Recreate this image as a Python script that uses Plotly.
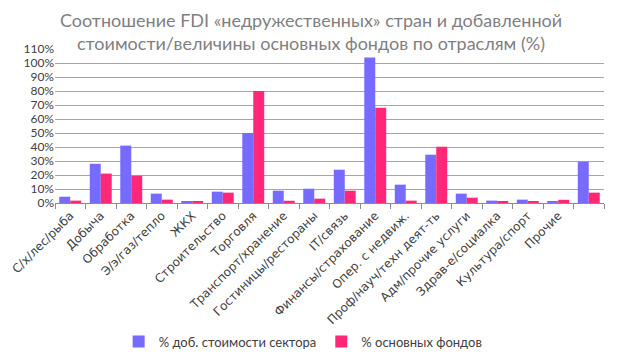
import plotly.graph_objects as go

categories = [
    "С/х/лес/рыба", "Добыча", "Обработка", "Э/э/газ/тепло", "ЖКХ",
    "Строительство", "Торговля", "Транспорт/хранение", "Гостиницы/рестораны",
    "IT/связь", "Финансы/страхование", "Опер. с недвиж.",
    "Проф/науч/техн деят-ть", "Адм/прочие услуги", "Здрав-е/социалка",
    "Культура/спорт", "Прочие", " ",
]
value_added = [4.5, 28, 41, 6.7, 1.0, 8.1, 50, 8.8, 10.2, 23.8, 104, 13.1,
               34.5, 6.7, 1.7, 2.4, 0.9, 29.5]
fixed_assets = [1.7, 21, 19.5, 2.4, 1.0, 7.4, 80, 1.6, 3.1, 8.8, 68, 1.7,
                40.2, 3.8, 1.0, 0.9, 2.3, 7.4]
series_names = ["% доб. стоимости сектора", "% основных фондов"]
y_ticks = list(range(0, 111, 10))
y_tick_labels = [f"{v}%" for v in y_ticks]

BLUE = "#776BFF"
PINK = "#FF2878"
FONT = "Lato"
XFONT = "DejaVu Sans"

fig = go.Figure()
fig.add_bar(x=categories, y=value_added, name=series_names[0],
            marker_color=BLUE, marker_line_width=0)
fig.add_bar(x=categories, y=fixed_assets, name=series_names[1],
            marker_color=PINK, marker_line_width=0)

# page body has an 8px margin, so the figure is sized to fit inside it
fig.update_layout(
    width=606, height=346,
    margin=dict(l=47, r=10, t=41, b=151, autoexpand=False),
    paper_bgcolor="white", plot_bgcolor="white",
    barmode="group", bargap=0.28, bargroupgap=0,
    font=dict(family=FONT, color="#404040"),
    title=dict(
        text="Соотношение FDI «недружественных» стран и добавленной<br>стоимости/величины основных фондов по отраслям (%)",
        x=0.5, xanchor="center", xref="container",
        y=0.945, yanchor="middle", yref="container",
        font=dict(family=FONT, size=18, color="#7F7F7F"),
    ),
    legend=dict(
        orientation="h", x=0.452, xanchor="center", y=-0.9, yanchor="middle",
        font=dict(family=FONT, size=13, color="#404040"),
        itemwidth=30, traceorder="normal",
    ),
    showlegend=True,
)
fig.update_xaxes(
    type="category", tickangle=-45,
    tickfont=dict(family=XFONT, size=12, color="#404040"),
    showline=True, linecolor="#8C8C8C", linewidth=1,
    ticks="outside", tickson="boundaries", ticklen=5, tickcolor="#8C8C8C",
    showgrid=False, automargin=False,
)
fig.update_yaxes(
    range=[0, 110], tickvals=y_ticks, ticktext=y_tick_labels,
    tickfont=dict(family=FONT, size=12, color="#404040"),
    showgrid=True, gridcolor="#A6A6A6", gridwidth=1,
    zeroline=False, showline=False, ticks="", automargin=False,
)

fig.write_html("out.html", config={"displayModeBar": False})
